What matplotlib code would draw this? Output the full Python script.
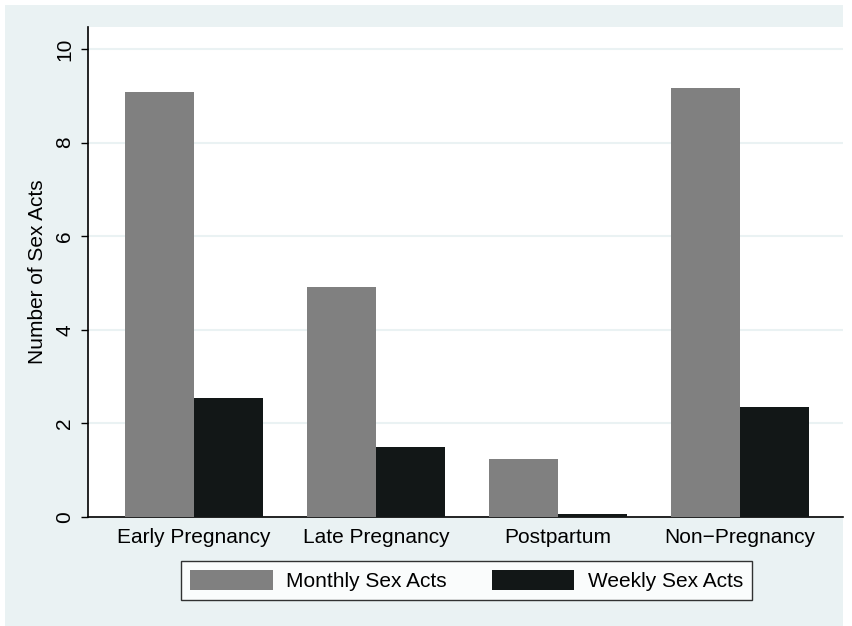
import numpy as np
import matplotlib.pyplot as plt
from matplotlib.patches import Rectangle

# Datos
categories = ['Early Pregnancy', 'Late Pregnancy', 'Postpartum', 'Non\u2212Pregnancy']
monthly = [9.09, 4.92, 1.24, 9.17]
weekly = [2.55, 1.49, 0.07, 2.35]
series_names = ['Monthly Sex Acts', 'Weekly Sex Acts']
yticks = [0, 2, 4, 6, 8, 10]

bg = '#EAF2F3'
gray = '#808080'
dark = '#121717'
fs = 15

plt.rcParams['font.family'] = ['Liberation Sans', 'DejaVu Sans']

fig = plt.figure(figsize=(8.53, 6.26), dpi=100, facecolor='white')
# Fondo exterior estilo Stata
fig.patches.append(Rectangle((5 / 853, 0), 838 / 853, 621 / 626,
                             transform=fig.transFigure, facecolor=bg,
                             edgecolor='none', zorder=-1))

ax = fig.add_axes([88 / 853, 109 / 626, 755 / 853, 490 / 626])
ax.set_facecolor('white')

x = np.arange(len(categories))
w = 0.379
ax.bar(x - w / 2, monthly, w, color=gray, label=series_names[0], zorder=3)
ax.bar(x + w / 2, weekly, w, color=dark, label=series_names[1], zorder=3)

ax.set_xlim(-0.582, 3.566)
ax.set_ylim(0, 10.47)
ax.set_yticks(yticks)
ax.set_yticklabels([str(t) for t in yticks], rotation=90, va='center', fontsize=fs)
ax.set_xticks(x)
ax.set_xticklabels(categories, fontsize=fs)
ax.tick_params(axis='x', length=0, pad=8)
ax.tick_params(axis='y', length=5, width=1, pad=5, direction='out')
ax.yaxis.grid(True, color=bg, linewidth=1.5, zorder=0)
ax.set_axisbelow(True)

for s in ['top', 'right']:
    ax.spines[s].set_visible(False)
for s in ['left', 'bottom']:
    ax.spines[s].set_linewidth(1.2)
    ax.spines[s].set_color('black')

ax.set_ylabel('Number of Sex Acts', fontsize=fs, labelpad=6)

leg = fig.legend(loc='center', bbox_to_anchor=(466.5 / 853, 1 - 580.5 / 626),
                 ncol=2, fontsize=fs, frameon=True, fancybox=False,
                 handlelength=3.95, handleheight=1.1, handletextpad=0.63,
                 columnspacing=2.2, borderpad=0.43)
leg.get_frame().set_edgecolor('black')
leg.get_frame().set_linewidth(1.0)

fig.savefig('out.png', dpi=100, facecolor='white')
